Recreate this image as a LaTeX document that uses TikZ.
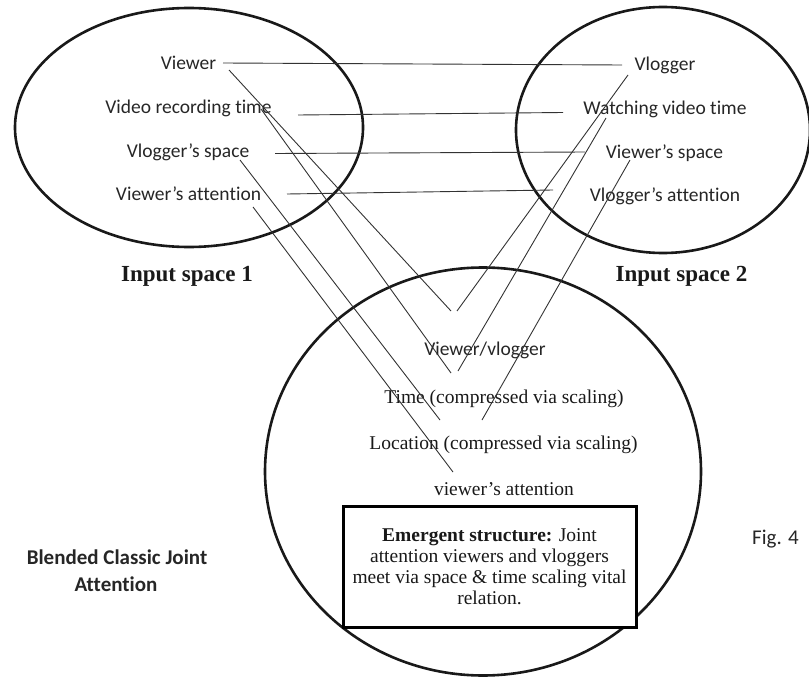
\documentclass[tikz,border=0pt]{standalone}
\usepackage{fontspec}
\setmainfont{Liberation Serif}
\newfontfamily\calibri[Ligatures=NoCommon]{Carlito}
\usetikzlibrary{shapes.geometric}

\begin{document}
\begin{tikzpicture}[x=1pt,y=-1pt,
  space/.style={draw=black!90, line width=2.6pt, ellipse, inner sep=0pt, outer sep=0pt},
  sanslabel/.style={font=\calibri\fontsize{19.5}{23}\selectfont, text=black!85, inner sep=0pt, anchor=base},
  seriflabel/.style={font=\fontsize{19.5}{23}\selectfont, text=black!90, inner sep=0pt, anchor=base},
  spacetitle/.style={font=\bfseries\fontsize{23}{27}\selectfont, text=black!90, inner sep=0pt, anchor=base},
  sidenote/.style={font=\calibri\fontsize{21}{25}\selectfont, text=black!85, inner sep=0pt, anchor=base},
  link/.style={draw=black!80, line width=0.9pt},
]
\useasboundingbox (0,0) rectangle (809,677);

% the three mental spaces
\node[space, minimum width=348pt, minimum height=239pt] (in1) at (189,127.5) {};
\node[space, minimum width=294pt, minimum height=246pt] (in2) at (663,130) {};
\node[space, minimum width=436pt, minimum height=408pt] (blend) at (483,471.5) {};

% emergent structure box
\node[draw=black, line width=3pt, fill=white, minimum width=293pt, minimum height=121pt,
      inner sep=0pt, align=center, text=black!90,
      font=\fontsize{19.5}{21}\selectfont] (emergent) at (489.5,566.5)
  {\textbf{Emergent structure:} Joint\\attention viewers and vloggers\\meet via space \& time scaling vital\\relation.};

% input space 1
\node[sanslabel] (a1) at (188.5,69.5) {Viewer};
\node[sanslabel] (a2) at (188.5,113.5) {Video recording time};
\node[sanslabel] (a3) at (188,157.5) {Vlogger’s space};
\node[sanslabel] (a4) at (188.5,200.5) {Viewer’s attention};

% input space 2
\node[sanslabel] (b1) at (665,70.5) {Vlogger};
\node[sanslabel] (b2) at (665,114.5) {Watching video time};
\node[sanslabel] (b3) at (664.5,158.5) {Viewer’s space};
\node[sanslabel] (b4) at (665,201.5) {Vlogger’s attention};

% blended space
\node[sanslabel] (c1) at (485,355.5) {Viewer/vlogger};
\node[seriflabel] (c2) at (504,403.5) {Time (compressed via scaling)};
\node[seriflabel] (c3) at (503.5,449.5) {Location (compressed via scaling)};
\node[seriflabel] (c4) at (504,495.5) {viewer’s attention};

% titles
\node[spacetitle] (t1) at (187,281) {Input space 1};
\node[spacetitle] (t2) at (681.5,281) {Input space 2};
\node[sidenote, font=\calibri\bfseries\fontsize{21}{25}\selectfont] (t3) at (117,564) {Blended Classic Joint};
\node[sidenote, font=\calibri\bfseries\fontsize{21}{25}\selectfont] (t4) at (116,591) {Attention};
\node[sidenote] (fig) at (775.5,544) {Fig. 4};

% ends of the cross-space mappings
\coordinate (h1s) at (223,63);  \coordinate (h1e) at (622,65);
\coordinate (h2s) at (298,115); \coordinate (h2e) at (563,112.5);
\coordinate (h3s) at (275,153.5); \coordinate (h3e) at (585,152);
\coordinate (h4s) at (287,194); \coordinate (h4e) at (553,190);

\coordinate (p1s) at (229,70);  \coordinate (p1e) at (451,311);
\coordinate (p2s) at (261,109); \coordinate (p2e) at (451,373);
\coordinate (p3s) at (240,160); \coordinate (p3e) at (440,420);
\coordinate (p4s) at (253,207); \coordinate (p4e) at (453,472);

\coordinate (q1s) at (628,75);  \coordinate (q1e) at (457,311);
\coordinate (q2s) at (606,118); \coordinate (q2e) at (458,371);
\coordinate (q3s) at (630,160); \coordinate (q3e) at (482,420);

% counterpart connectors between the input spaces
\draw[link] (h1s) -- (h1e);
\draw[link] (h2s) -- (h2e);
\draw[link] (h3s) -- (h3e);
\draw[link] (h4s) -- (h4e);

% projections into the blend
\draw[link] (p1s) -- (p1e);
\draw[link] (p2s) -- (p2e);
\draw[link] (p3s) -- (p3e);
\draw[link] (p4s) -- (p4e);
\draw[link] (q1s) -- (q1e);
\draw[link] (q2s) -- (q2e);
\draw[link] (q3s) -- (q3e);
\end{tikzpicture}
\end{document}
